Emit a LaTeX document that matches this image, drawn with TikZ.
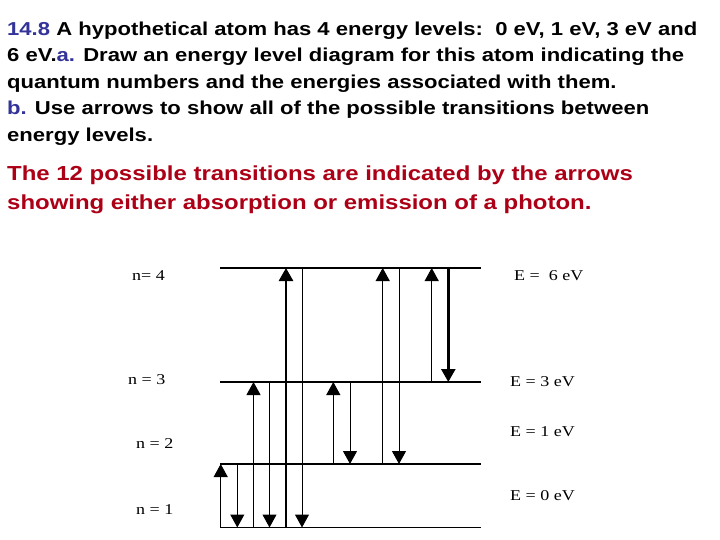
\documentclass[tikz,border=0pt]{standalone}
\usepackage{fontspec}
\setmainfont{Liberation Sans}[FakeStretch=1.18]
\newfontfamily\lblfont{Liberation Serif}[FakeStretch=1.2]
\usetikzlibrary{arrows.meta}
\definecolor{navy}{RGB}{51,51,153}
\definecolor{darkred}{RGB}{172,0,22}
\tikzset{
  body/.style={anchor=base west,inner sep=0pt,font=\fontsize{18.7}{22}\selectfont\bfseries},
  answer/.style={anchor=base west,inner sep=0pt,text=darkred,font=\fontsize{20.3}{24}\selectfont\bfseries},
  lvl/.style={line width=1.1pt},
  lbl/.style={anchor=west,inner sep=0pt,font=\lblfont\fontsize{15}{18}\selectfont},
  tip/.style={-{Triangle[width=14pt,length=13pt]}},
  thin/.style={tip,line width=1pt},
  thick/.style={tip,line width=2.6pt}
}
\begin{document}
\begin{tikzpicture}[x=1pt,y=-1pt]
\useasboundingbox (0,0) rectangle (720,540);
% question text
\node[body] (q1) at (7,35.5) {\textcolor{navy}{14.8} A hypothetical atom has 4 energy levels:\ \ 0 eV, 1 eV, 3 eV and};
\node[body] (q2) at (7,62) {6 eV.\textcolor{navy}{a.} Draw an energy level diagram for this atom indicating the};
\node[body] (q3) at (7,88.5) {quantum numbers and the energies associated with them.};
\node[body] (q4) at (7,115) {\textcolor{navy}{b.} Use arrows to show all of the possible transitions between};
\node[body] (q5) at (7,141.5) {energy levels.};
\node[answer] (r1) at (7,181) {The 12 possible transitions are indicated by the arrows};
\node[answer] (r2) at (7,210) {showing either absorption or emission of a photon.};
% levels
\coordinate (L4a) at (220,268); \coordinate (L4b) at (481,268);
\coordinate (L3a) at (220,382); \coordinate (L3b) at (481,382);
\coordinate (L2a) at (220,464); \coordinate (L2b) at (481,464);
\coordinate (L1a) at (220,527.5); \coordinate (L1b) at (481,527.5);
\draw[lvl] (L4a) -- (L4b);
\draw[lvl] (L3a) -- (L3b);
\draw[lvl] (L2a) -- (L2b);
\draw[lvl] (L1a) -- (L1b);
% level labels
\node[lbl] (n4) at (132,276) {n= 4};
\node[lbl] (n3) at (128,380) {n = 3};
\node[lbl] (n2) at (136,444) {n = 2};
\node[lbl] (n1) at (136,510) {n = 1};
\node[lbl] (e4) at (514,276) {E =\ \ 6 eV};
\node[lbl] (e3) at (510,382) {E = 3 eV};
\node[lbl] (e2) at (510,432) {E = 1 eV};
\node[lbl] (e1) at (510,496) {E = 0 eV};
% transition end points
\foreach \nm/\x in {a/220.7,b/237.3,c/253.5,d/269.5,e/286,f/302,g/333.3,h/350,i/382.7,j/399,k/431.7,l/448.3}{
  \coordinate (\nm4) at (\x,268);
  \coordinate (\nm3) at (\x,382);
  \coordinate (\nm2) at (\x,464);
  \coordinate (\nm1) at (\x,527.5);
}
% transitions
\draw[thin] (a1) -- (a2);
\draw[thin] (b2) -- (b1);
\draw[thin] (c1) -- (c3);
\draw[thin] (d3) -- (d1);
\draw[thick] (e1) -- (e4);
\draw[thin] (f4) -- (f1);
\draw[thin] (g2) -- (g3);
\draw[thin] (h3) -- (h2);
\draw[thin] (i2) -- (i4);
\draw[thin] (j4) -- (j2);
\draw[thin] (k3) -- (k4);
\draw[thick] (l4) -- (l3);
\end{tikzpicture}
\end{document}
